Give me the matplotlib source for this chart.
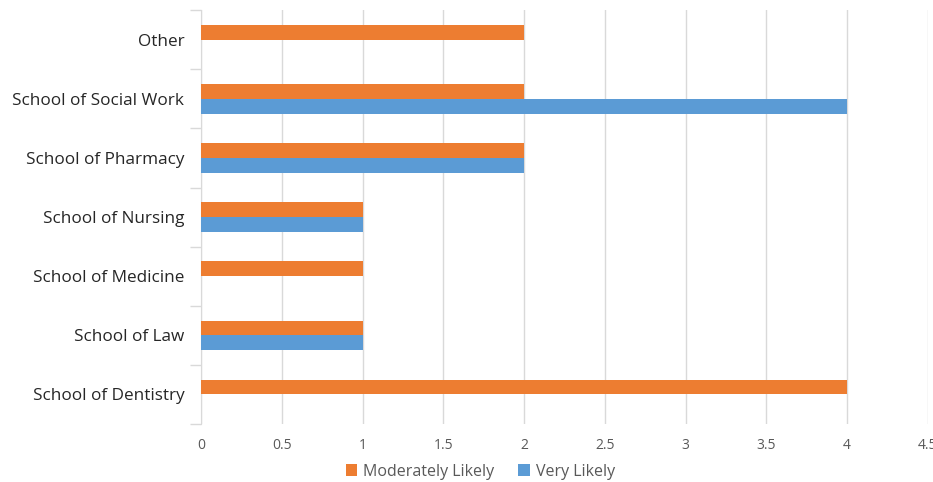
import matplotlib.pyplot as plt
import numpy as np

categories = ["School of Dentistry", "School of Law", "School of Medicine",
              "School of Nursing", "School of Pharmacy", "School of Social Work", "Other"]
moderately = [4, 1, 1, 1, 2, 2, 2]
very = [0, 1, 0, 1, 2, 4, 0]
xticks = [0, 0.5, 1, 1.5, 2, 2.5, 3, 3.5, 4, 4.5]

plt.rcParams['font.family'] = ['Open Sans', 'DejaVu Sans']

fig = plt.figure(figsize=(9.33, 4.82), dpi=100)
ax = fig.add_axes([0.2154, 0.1203, 0.7792, 0.8587])

y = np.arange(len(categories))
h = 0.25
ax.barh(y + h / 2, moderately, height=h, color='#ED7D31', label='Moderately Likely', zorder=3)
ax.barh(y - h / 2, very, height=h, color='#5B9BD5', label='Very Likely', zorder=3)

ax.set_xlim(0, 4.5)
ax.set_ylim(-0.5, len(categories) - 0.5)
ax.set_xticks(xticks)
ax.set_xticklabels([f"{t:g}" for t in xticks], color='#595959', fontsize=10)
ax.tick_params(axis='x', length=0, pad=10)
ax.set_yticks(y)
ax.set_yticklabels(categories, fontsize=12.3, color='#262626')
ax.tick_params(axis='y', length=0, pad=12)
ax.set_yticks(np.arange(-0.5, len(categories)), minor=True)
ax.tick_params(axis='y', which='minor', length=8, color='#D9D9D9', width=1)
ax.grid(axis='x', color='#D9D9D9', linewidth=1, zorder=0)

for s in ['top', 'right', 'bottom']:
    ax.spines[s].set_visible(False)
ax.spines['left'].set_color('#D9D9D9')

fig.legend(loc='lower center', bbox_to_anchor=(0.515, -0.025), ncol=2, frameon=False,
           fontsize=11.5, handlelength=0.7, handleheight=0.7, columnspacing=1.5,
           handletextpad=0.4, labelcolor='#595959')

fig.savefig('out.png', dpi=100)
